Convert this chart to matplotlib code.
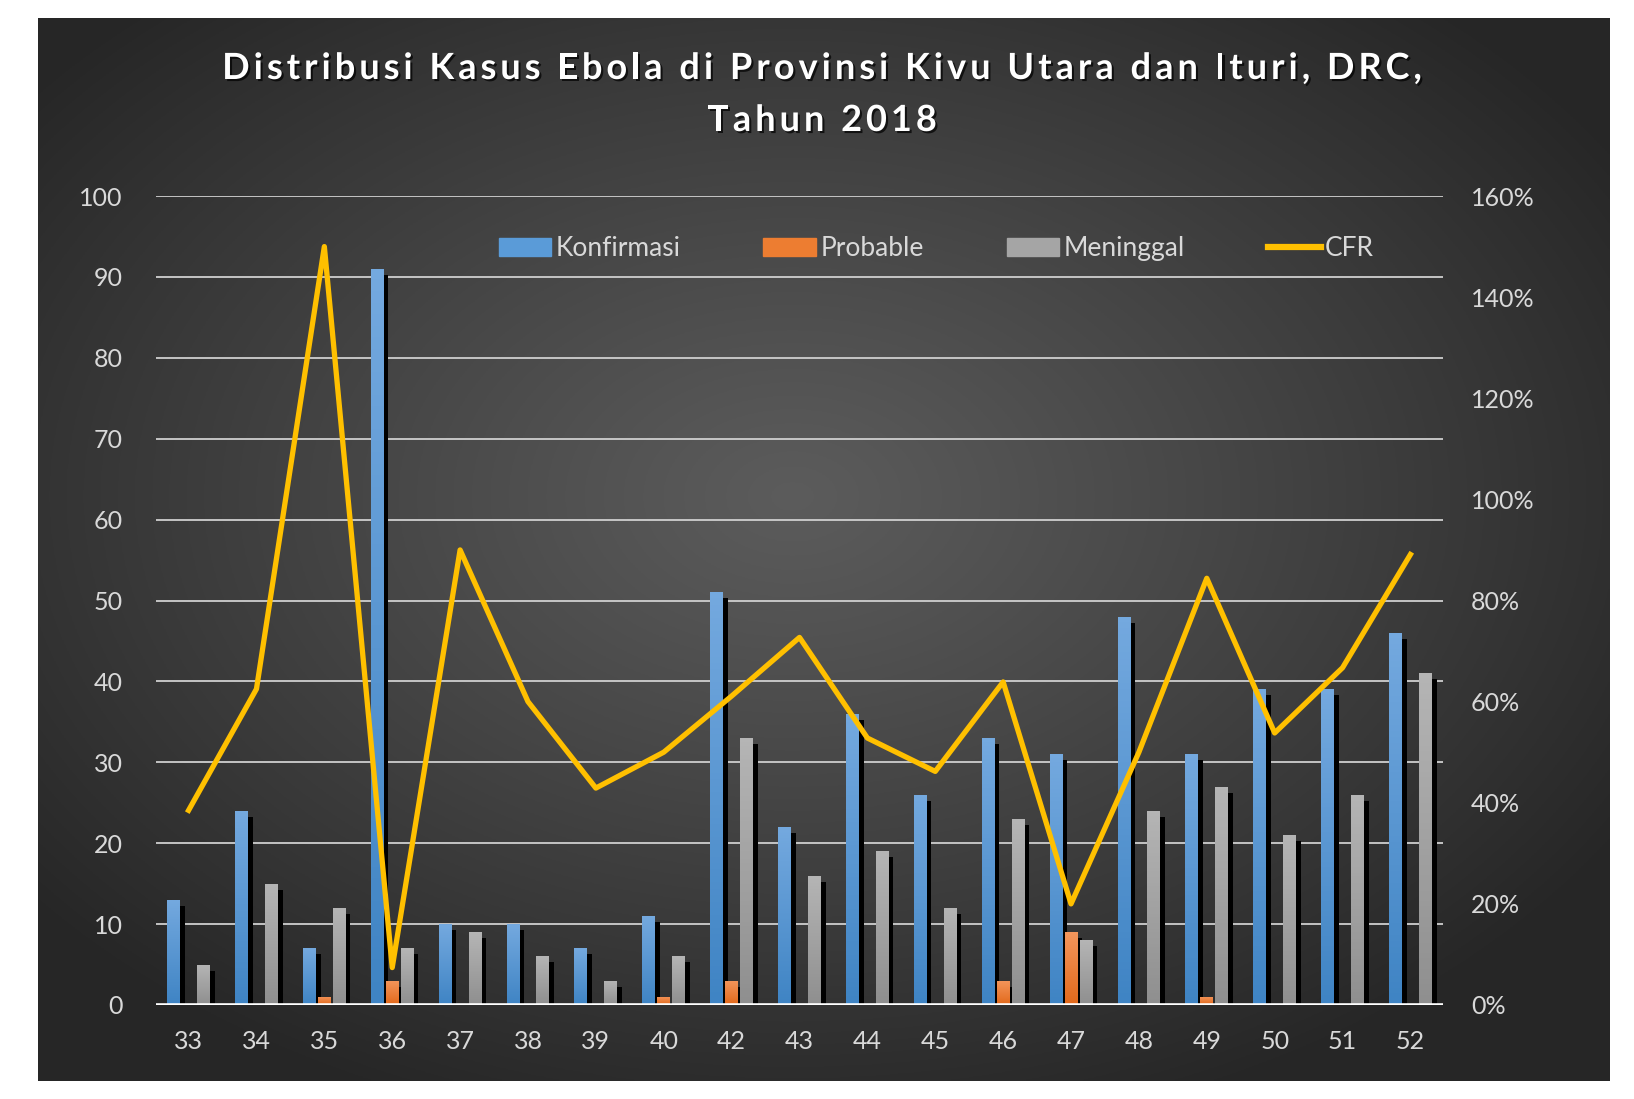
import numpy as np
import matplotlib
matplotlib.use('Agg')
import matplotlib.pyplot as plt
import matplotlib.patheffects as pe
from matplotlib.patches import Patch
from matplotlib.lines import Line2D
from matplotlib.ticker import PercentFormatter

plt.rcParams['font.family'] = ['Lato', 'DejaVu Sans']

# data
minggu = ['33', '34', '35', '36', '37', '38', '39', '40', '42', '43',
          '44', '45', '46', '47', '48', '49', '50', '51', '52']
konfirmasi = [13, 24, 7, 91, 10, 10, 7, 11, 51, 22, 36, 26, 33, 31, 48, 31, 39, 39, 46]
probable = [0, 0, 1, 3, 0, 0, 0, 1, 3, 0, 0, 0, 3, 9, 0, 1, 0, 0, 0]
meninggal = [5, 15, 12, 7, 9, 6, 3, 6, 33, 16, 19, 12, 23, 8, 24, 27, 21, 26, 41]
cfr = [38.5, 62.5, 150, 7.4, 90, 60, 42.9, 50, 61.1, 72.7,
       52.8, 46.2, 63.9, 20, 50, 84.4, 53.8, 66.7, 89.1]

judul1 = 'Distribusi Kasus Ebola di Provinsi Kivu Utara dan Ituri, DRC,'
judul2 = 'Tahun 2018'

W, H = 1634, 1099
fig = plt.figure(figsize=(W / 100, H / 100), dpi=100, facecolor='white')

# dark panel with a radial glow
bg = fig.add_axes([37.5 / W, 1 - 1081 / H, (1609 - 37.5) / W, (1081 - 18) / H])
bg.set_axis_off()
yy, xx = np.mgrid[0:1:400j, 0:1:600j]
r = np.sqrt(((xx - 0.48) / 0.62) ** 2 + ((yy - 0.45) / 0.62) ** 2)
r = np.clip(r, 0, 1)
dark, light = np.array([0.15, 0.15, 0.15]), np.array([0.36, 0.36, 0.36])
img = light + (dark - light) * r[..., None] ** 1.1
bg.imshow(img, extent=(0, 1, 0, 1), aspect='auto', origin='upper')
bg.set_xlim(0, 1)
bg.set_ylim(0, 1)

ax = fig.add_axes([156 / W, 1 - 1005 / H, (1443 - 156) / W, (1005 - 196) / H])
ax.set_facecolor('none')

x = np.arange(len(minggu))
w = 0.19
shadow = [pe.SimplePatchShadow(offset=(3.4, -4.3), shadow_rgbFace='black', alpha=1.0), pe.Normal()]

series = [
    (konfirmasi, -0.22, '#4f94d4', ('#74a9df', '#3f84c4')),
    (probable, 0.0, '#ed7d31', ('#f4965c', '#e2691b')),
    (meninggal, 0.22, '#a5a5a5', ('#b5b5b5', '#8f8f8f')),
]
grad = np.linspace(0, 1, 64)[:, None]
for vals, off, col, (top, bot) in series:
    bars = ax.bar(x + off, vals, width=w, color=col, zorder=2, path_effects=shadow)
    ct = np.array(matplotlib.colors.to_rgb(top))
    cb = np.array(matplotlib.colors.to_rgb(bot))
    g = ct + (cb - ct) * grad[..., None]
    for b in bars:
        if b.get_height() <= 0:
            continue
        im = ax.imshow(g, extent=(b.get_x(), b.get_x() + b.get_width(), 0, b.get_height()),
                       aspect='auto', origin='upper', zorder=2.1)
        im.set_clip_path(b)

ax.set_xlim(-0.48, len(minggu) - 0.52)
ax.set_ylim(0, 100)
ax.set_yticks(range(0, 101, 10))
ax.yaxis.grid(True, color='#cfcfcf', lw=1.3, zorder=1)
ax.set_axisbelow(True)
ax.axhline(0, color='white', lw=2.6, zorder=3)
for s in ax.spines.values():
    s.set_visible(False)
ax.set_xticks(x)
ax.set_xticklabels(minggu)
ax.tick_params(axis='x', length=0, pad=18, labelsize=18, labelcolor='#d9d9d9')
ax.tick_params(axis='y', length=0, pad=24, labelsize=18, labelcolor='#d9d9d9')

ax2 = ax.twinx()
ax2.plot(x, cfr, color='#ffc000', lw=3.8, zorder=4)
ax2.set_ylim(0, 160)
ax2.set_yticks(range(0, 161, 20))
ax2.yaxis.set_major_formatter(PercentFormatter(decimals=0))
for s in ax2.spines.values():
    s.set_visible(False)
ax2.tick_params(axis='y', length=0, pad=20, labelsize=18, labelcolor='#d9d9d9')

# title in Excel style: bold, letter-spaced, with a drop shadow
renderer = fig.canvas.get_renderer()
tshadow = [pe.withSimplePatchShadow(offset=(1.5, -1.5), shadow_rgbFace='black', alpha=0.7)]
gaya = dict(fontsize=26, fontweight='bold')


def lebar(s):
    t = fig.text(0, 0, s + 'x', **gaya)
    t2 = fig.text(0, 0, 'x', **gaya)
    w_ = t.get_window_extent(renderer).width - t2.get_window_extent(renderer).width
    t.remove()
    t2.remove()
    return w_


def teks_renggang(s, cx, yb, spasi):
    total = lebar(s) + spasi * (len(s) - 1)
    x0 = cx - total / 2
    for i, ch in enumerate(s):
        if ch == ' ':
            continue
        px = x0 + lebar(s[:i]) + spasi * i
        fig.text(px / W, 1 - yb / H, ch, ha='left', va='baseline', color='white',
                 path_effects=tshadow, **gaya)


teks_renggang(judul1, 822, 79, 4.0)
teks_renggang(judul2, 822, 131, 4.0)

handles = [Patch(color='#5a9bd8'), Patch(color='#ed7d31'), Patch(color='#a5a5a5'),
           Line2D([], [], color='#ffc000', lw=4.5)]
leg = fig.legend(handles, ['Konfirmasi', 'Probable', 'Meninggal', 'CFR'], loc='center',
                 bbox_to_anchor=(936 / W, 1 - 248.5 / H), ncol=4, frameon=False, fontsize=19,
                 handlelength=2.0, handleheight=0.65, handletextpad=0.15, columnspacing=3.15)
for t in leg.get_texts():
    t.set_color('#d9d9d9')

fig.savefig('out.png', dpi=100, facecolor='white')
